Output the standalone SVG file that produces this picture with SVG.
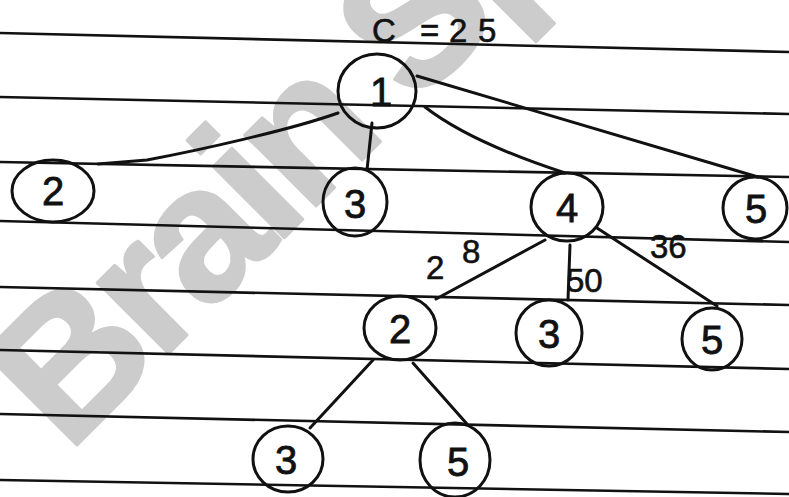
<svg xmlns="http://www.w3.org/2000/svg" width="789" height="497" viewBox="0 0 789 497">
<style>
.rule{stroke:#111;stroke-width:2.6;fill:none}
.node ellipse{fill:none;stroke:#111;stroke-width:3}
.node text{font-family:"Liberation Sans",Arial,sans-serif;font-size:40px;fill:#111;stroke:#111;stroke-width:0.8;text-anchor:middle}
.edge{stroke:#111;stroke-width:3;fill:none;stroke-linecap:round}
.lbl{font-family:"Liberation Sans",Arial,sans-serif;font-size:33px;fill:#111;stroke:#111;stroke-width:0.6}
.wm{font-family:"Liberation Sans",Arial,sans-serif;font-weight:bold;font-size:190px;letter-spacing:-8px;fill:#cccccc;stroke:#cccccc;stroke-width:3;stroke-linejoin:round}
</style>
<rect width="789" height="497" fill="#ffffff"/>
<text class="wm" transform="translate(68,454) rotate(-45)">Brain Sp</text>
<g id="rules">
<line class="rule" x1="0" y1="33" x2="789" y2="52"/>
<line class="rule" x1="0" y1="97" x2="789" y2="114"/>
<line class="rule" x1="0" y1="162" x2="789" y2="177"/>
<line class="rule" x1="0" y1="221" x2="789" y2="242"/>
<line class="rule" x1="0" y1="287" x2="789" y2="305"/>
<line class="rule" x1="0" y1="350" x2="789" y2="369"/>
<line class="rule" x1="0" y1="414" x2="789" y2="432"/>
<line class="rule" x1="0" y1="480" x2="789" y2="494"/>
</g>
<text class="lbl" font-size="40"><tspan x="372" y="42">C</tspan><tspan x="420" y="42">=</tspan><tspan x="449" y="42">2</tspan><tspan x="478" y="42">5</tspan></text>
<g id="connectors">
<path class="edge" d="M338 113 C290 130 200 150 147 160 L98 164"/>
<path class="edge" d="M372 123 L367 170"/>
<path class="edge" d="M425 107 Q470 142 565 173"/>
<path class="edge" d="M417 76 L758 177"/>
<path class="edge" d="M545 240 L436 299"/>
<path class="edge" d="M570 245 L568 300"/>
<path class="edge" d="M597 228 L717 306"/>
<path class="edge" d="M373 360 L310 428"/>
<path class="edge" d="M413 363 L467 424"/>
</g>
<g id="edge-labels">
<text class="lbl"><tspan x="426" y="279">2</tspan><tspan x="462" y="263">8</tspan></text>
<text class="lbl" x="566" y="292">50</text>
<text class="lbl" x="650" y="258">36</text>
</g>
<g id="n1" class="node"><ellipse cx="377" cy="91" rx="39" ry="37"/><text x="381" y="106">1</text></g>
<g id="n2" class="node"><ellipse cx="53" cy="191" rx="41" ry="31"/><text x="53" y="205">2</text></g>
<g id="n3" class="node"><ellipse cx="355" cy="202" rx="32" ry="34"/><text x="355" y="218">3</text></g>
<g id="n4" class="node"><ellipse cx="567" cy="207" rx="36" ry="34"/><text x="567" y="222">4</text></g>
<g id="n5" class="node"><ellipse cx="755" cy="208" rx="32" ry="31"/><text x="756" y="223">5</text></g>
<g id="n4-2" class="node"><ellipse cx="400" cy="328" rx="36" ry="32"/><text x="400" y="343">2</text></g>
<g id="n4-3" class="node"><ellipse cx="549" cy="333" rx="33" ry="33"/><text x="549" y="348">3</text></g>
<g id="n4-5" class="node"><ellipse cx="712" cy="339" rx="30" ry="31"/><text x="712" y="354">5</text></g>
<g id="n2-3" class="node"><ellipse cx="288" cy="459" rx="35" ry="33"/><text x="286" y="474">3</text></g>
<g id="n2-5" class="node"><ellipse cx="455" cy="460" rx="35" ry="37"/><text x="458" y="476">5</text></g>
</svg>
